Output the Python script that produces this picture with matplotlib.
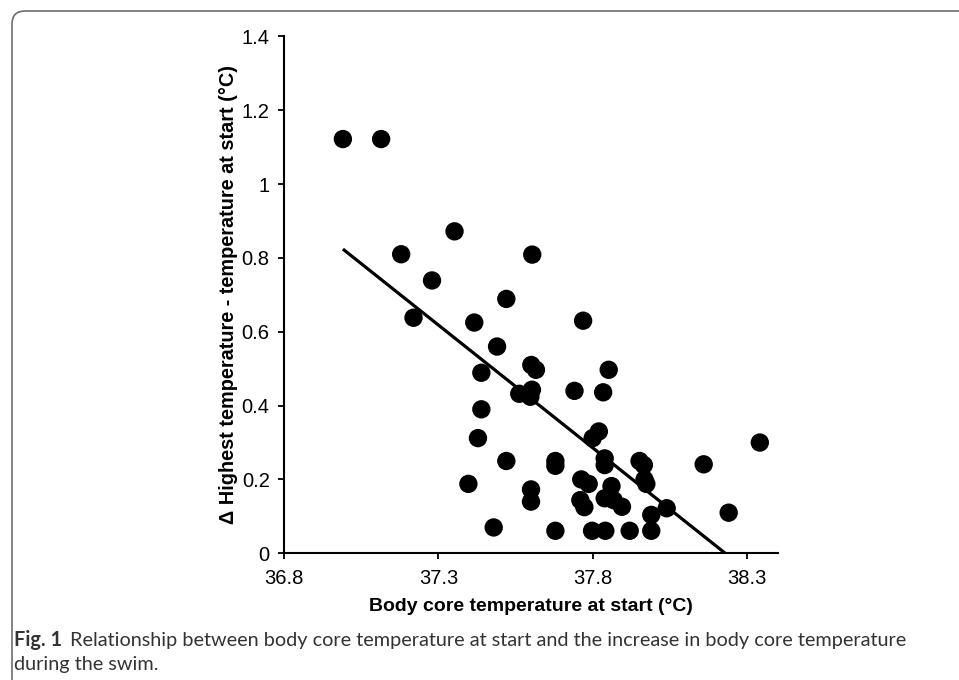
import matplotlib
matplotlib.use("Agg")
import matplotlib.pyplot as plt
from matplotlib.patches import FancyBboxPatch
from matplotlib.transforms import IdentityTransform

# ---- data ----
start_temp = [36.99, 37.114, 37.179, 37.279, 37.352, 37.219, 37.604, 37.52, 37.416,
              37.49, 37.769, 37.439, 37.601, 37.616, 37.852, 37.562, 37.603, 37.598,
              37.741, 37.834, 37.439, 37.82, 37.80, 37.428, 37.52, 37.679, 37.679,
              37.839, 37.839, 37.952, 37.966, 37.397, 37.763, 37.787, 37.60, 37.60,
              37.861, 37.968, 37.974, 37.76, 37.773, 37.839, 37.868, 37.895, 37.99,
              38.04, 37.479, 37.679, 37.798, 37.841, 37.92, 37.99, 38.16, 38.342,
              38.241]
delta_temp = [1.122, 1.122, 0.810, 0.739, 0.872, 0.638, 0.809, 0.689, 0.625,
              0.560, 0.630, 0.489, 0.510, 0.497, 0.497, 0.432, 0.443, 0.424,
              0.440, 0.436, 0.390, 0.330, 0.312, 0.312, 0.250, 0.250, 0.237,
              0.257, 0.239, 0.250, 0.239, 0.188, 0.200, 0.188, 0.173, 0.140,
              0.182, 0.200, 0.188, 0.144, 0.125, 0.149, 0.144, 0.126, 0.104,
              0.122, 0.070, 0.061, 0.061, 0.061, 0.061, 0.061, 0.241, 0.300,
              0.110]
trend_x = [36.99, 38.23]
trend_y = [0.824, 0.0]
x_ticks = [36.8, 37.3, 37.8, 38.3]
x_tick_labels = ["36.8", "37.3", "37.8", "38.3"]
y_ticks = [0, 0.2, 0.4, 0.6, 0.8, 1.0, 1.2, 1.4]
y_tick_labels = ["0", "0.2", "0.4", "0.6", "0.8", "1", "1.2", "1.4"]
x_label = "Body core temperature at start (°C)"
y_label = "Δ Highest temperature - temperature at start (°C)"
caption_bold = "Fig. 1"
caption_line1 = "Relationship between body core temperature at start and the increase in body core temperature"
caption_line2 = "during the swim."

W, H, DPI = 959, 680, 100
fig = plt.figure(figsize=(W / DPI, H / DPI), dpi=DPI)
fig.patch.set_facecolor("white")

# axes placement (pixel based)
left_px, right_px, top_px, bottom_px = 284.3, 777.7, 36.4, 553.3
ax = fig.add_axes([left_px / W, 1 - bottom_px / H,
                   (right_px - left_px) / W, (bottom_px - top_px) / H])

ax.plot(trend_x, trend_y, color="black", lw=2.3, zorder=2, solid_capstyle="butt")
ax.scatter(start_temp, delta_temp, s=175, color="black", edgecolors="none", zorder=3)

ax.set_xlim(36.8, 38.4)
ax.set_ylim(0, 1.4)
ax.set_xticks(x_ticks)
ax.set_xticklabels(x_tick_labels)
ax.set_yticks(y_ticks)
ax.set_yticklabels(y_tick_labels)

for lab in ax.get_xticklabels() + ax.get_yticklabels():
    lab.set_fontfamily("Liberation Sans")
    lab.set_fontsize(14.5)

for s in ["top", "right"]:
    ax.spines[s].set_visible(False)
for s in ["left", "bottom"]:
    ax.spines[s].set_linewidth(1.5)
    ax.spines[s].set_color("black")
ax.tick_params(axis="both", direction="out", length=4.5, width=1.3, color="black",
               labelcolor="black")
ax.tick_params(axis="x", pad=7)
ax.tick_params(axis="y", pad=6)

ax.set_xlabel(x_label, fontfamily="Liberation Sans", fontweight="bold", fontsize=14,
              labelpad=7)
ax.set_ylabel(y_label, fontfamily="Liberation Sans", fontweight="bold", fontsize=14.3,
              labelpad=3)

# rounded frame (clipped at right and bottom)
frame = FancyBboxPatch((12, -40), 1100, H - 11 + 40,
                       boxstyle="round,pad=0,rounding_size=13",
                       transform=IdentityTransform(), facecolor="none",
                       edgecolor="#6e6e6e", lw=1.2)
fig.add_artist(frame)

# caption
cap_color = "#333333"
cap_font = "Lato"
cap_size = 14
gap = 8
fig.canvas.draw()
renderer = fig.canvas.get_renderer()
t_bold = fig.text(14 / W, 1 - 646 / H, caption_bold, fontfamily=cap_font,
                  fontweight="bold", fontsize=cap_size, color=cap_color,
                  va="baseline", ha="left")
t1 = fig.text(0, 1 - 646 / H, caption_line1, fontfamily=cap_font,
              fontsize=cap_size, color=cap_color, va="baseline", ha="left")
bb = t_bold.get_window_extent(renderer=renderer)
bb1 = t1.get_window_extent(renderer=renderer)
# fit total caption width to the reference line end
target_right = 908
total = (bb.x1 - bb.x0) + gap + (bb1.x1 - bb1.x0)
new_size = cap_size * (target_right - 14) / total
t_bold.set_fontsize(new_size)
t1.set_fontsize(new_size)
bb = t_bold.get_window_extent(renderer=renderer)
t1.set_x((bb.x1 + gap) / W)
fig.text(14 / W, 1 - 670 / H, caption_line2, fontfamily=cap_font,
         fontsize=new_size, color=cap_color, va="baseline", ha="left")

fig.savefig("out.png", dpi=DPI, facecolor="white")
